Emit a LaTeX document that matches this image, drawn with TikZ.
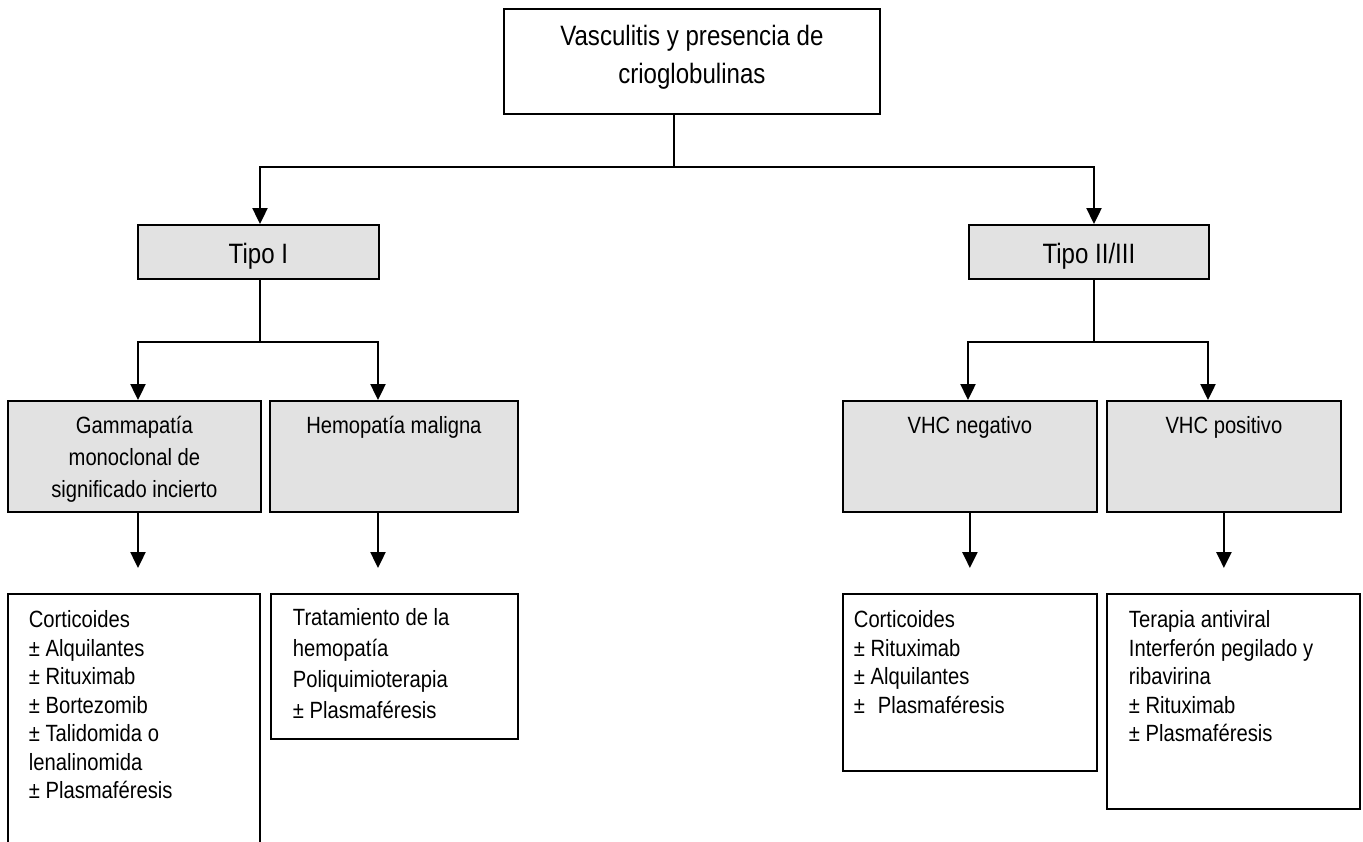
\documentclass[tikz,border=0pt]{standalone}
\usepackage{fontspec}
\setmainfont{Liberation Sans}[FakeStretch=0.86]
\usetikzlibrary{arrows.meta}
\definecolor{shade}{RGB}{226,226,226}
\newcommand{\mycbox}[4]{\parbox[t][#2][t]{#1}{\centering\rule{0pt}{#3}#4}}
\newcommand{\mylbox}[5]{\parbox[t][#2][t]{#1}{\raggedright\leftskip=#4\relax\rule{0pt}{#3}#5}}
\begin{document}
\begin{tikzpicture}[x=1pt,y=-1pt,
  plainbox/.style={draw=black, line width=1.8pt, inner sep=0pt, fill=white, anchor=north west},
  shadebox/.style={plainbox, fill=shade},
  bigfont/.style={font=\fontsize{28}{38}\selectfont},
  midfont/.style={font=\fontsize{23.5}{32}\selectfont},
  lowfont/.style={font=\fontsize{23.5}{28.5}\selectfont},
  conn/.style={line width=1.5pt},
  arr/.style={line width=2.4pt, -{Triangle[width=15pt,length=16pt]}},
]
\useasboundingbox (0,0) rectangle (1363,841);
\clip (0,0) rectangle (1363,841);

% column coordinates
\coordinate (xa) at (138,0);
\coordinate (xb) at (260,0);
\coordinate (xc) at (378,0);
\coordinate (xd) at (674,0);
\coordinate (xe) at (968,0);
\coordinate (xf) at (1094,0);
\coordinate (xg) at (1208,0);

% top
\node[plainbox, bigfont] (top) at (503,8)
  {\mycbox{376pt}{105pt}{37pt}{Vasculitis y presencia de\\crioglobulinas}};

% level 1
\node[shadebox, bigfont] (t1) at (137,224) {\mycbox{241pt}{54pt}{39pt}{Tipo I}};
\node[shadebox, bigfont] (t2) at (968,224) {\mycbox{240pt}{54pt}{39pt}{Tipo II/III}};

% level 2
\node[shadebox, midfont] (gam) at (7,400)
  {\mycbox{253pt}{111pt}{33pt}{Gammapatía\\monoclonal de\\significado incierto}};
\node[shadebox, midfont] (hem) at (269,400)
  {\mycbox{248pt}{111pt}{33pt}{Hemopatía maligna}};
\node[shadebox, midfont] (vneg) at (842,400)
  {\mycbox{254pt}{111pt}{33pt}{VHC negativo}};
\node[shadebox, midfont] (vpos) at (1106,400)
  {\mycbox{234pt}{111pt}{33pt}{VHC positivo}};

% level 3
\node[plainbox, lowfont] (tgam) at (7,593)
  {\mylbox{252pt}{270pt}{34pt}{21pt}{Corticoides\\± Alquilantes\\± Rituximab\\± Bortezomib\\± Talidomida o\\lenalinomida\\± Plasmaféresis}};
\node[plainbox, font=\fontsize{23.5}{31}\selectfont] (themo) at (270,593)
  {\mylbox{247pt}{145pt}{32pt}{22pt}{Tratamiento de la\\hemopatía\\Poliquimioterapia\\± Plasmaféresis}};
\node[plainbox, lowfont] (tneg) at (842,593)
  {\mylbox{254pt}{177pt}{34pt}{11pt}{Corticoides\\± Rituximab\\± Alquilantes\\±\hspace{0.55em}Plasmaféresis}};
\node[plainbox, lowfont] (tpos) at (1106,593)
  {\mylbox{253pt}{215pt}{34pt}{22pt}{Terapia antiviral\\Interferón pegilado y\\ribavirina\\± Rituximab\\± Plasmaféresis}};

% junctions
\coordinate (j0) at (674,167);
\coordinate (kL) at (260,342);
\coordinate (kR) at (1094,342);

% top branch
\draw[conn] (top.south -| xd) -- (j0);
\draw[arr] (j0) -| (t1.north -| xb);
\draw[arr] (j0) -| (t2.north -| xf);

% left branch
\draw[conn] (t1.south -| xb) -- (kL);
\draw[arr] (kL) -| (gam.north -| xa);
\draw[arr] (kL) -| (hem.north -| xc);

% right branch
\draw[conn] (t2.south -| xf) -- (kR);
\draw[arr] (kR) -| (vneg.north -| xe);
\draw[arr] (kR) -| (vpos.north -| xg);

% down arrows
\draw[arr] (gam.south -| xa) -- ([yshift=25pt]tgam.north -| xa);
\draw[arr] (hem.south -| xc) -- ([yshift=25pt]themo.north -| xc);
\draw[arr] (vneg.south) -- ([yshift=25pt]tneg.north -| vneg.south);
\draw[arr] (vpos.south) -- ([yshift=25pt]tpos.north -| vpos.south);
\end{tikzpicture}
\end{document}
